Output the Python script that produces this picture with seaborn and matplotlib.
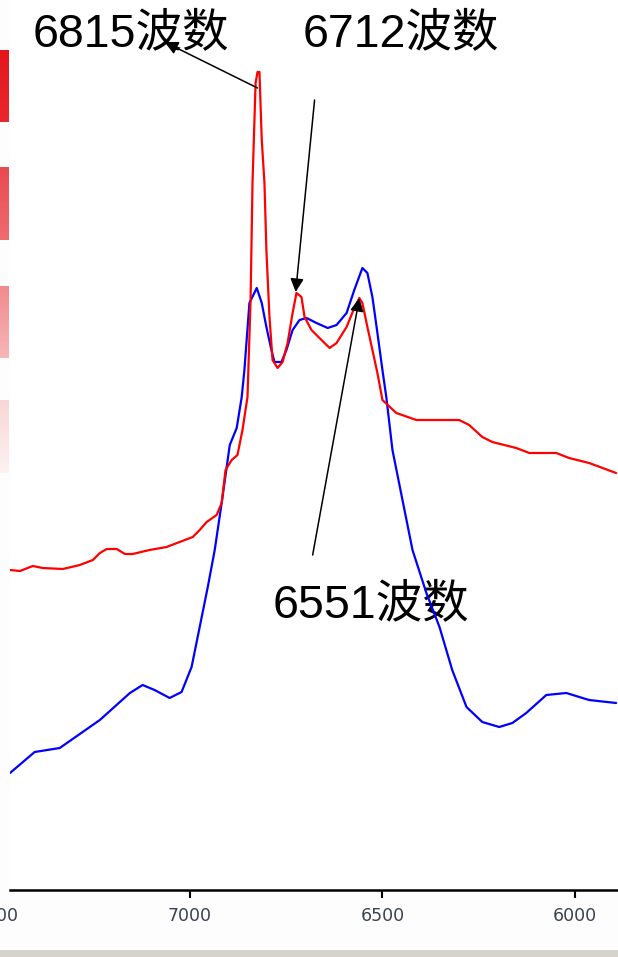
import numpy as np
import pandas as pd
import matplotlib
matplotlib.use("Agg")
import matplotlib.pyplot as plt
import seaborn as sns
from matplotlib.patches import Rectangle
from matplotlib.transforms import blended_transform_factory, offset_copy

# ---- data ----
blue_wn = [7466, 7402, 7337, 7233, 7155, 7122, 7091, 7052, 7021, 6995, 6974, 6953, 6935, 6917,
           6896, 6878, 6865, 6858, 6845, 6826, 6813, 6801, 6788, 6780, 6762, 6749, 6733, 6715,
           6697, 6671, 6642, 6619, 6593, 6573, 6552, 6539, 6526, 6513, 6500, 6490, 6474, 6448,
           6422, 6386, 6352, 6319, 6282, 6241, 6197, 6163, 6127, 6075, 6023, 5964, 5894]
blue_val = [1.17, 1.38, 1.42, 1.70, 1.97, 2.05, 2.00, 1.92, 1.98, 2.23, 2.63, 3.03, 3.40, 3.87,
            4.45, 4.62, 4.93, 5.20, 5.87, 6.02, 5.87, 5.63, 5.40, 5.28, 5.28, 5.40, 5.60, 5.70,
            5.72, 5.67, 5.62, 5.65, 5.77, 6.00, 6.22, 6.17, 5.93, 5.57, 5.20, 4.93, 4.40, 3.90,
            3.40, 2.97, 2.63, 2.20, 1.83, 1.68, 1.63, 1.67, 1.77, 1.95, 1.97, 1.90, 1.87]

red_wn = [7466, 7440, 7407, 7381, 7329, 7285, 7251, 7233, 7215, 7189, 7168, 7148, 7104, 7060,
          7026, 6992, 6974, 6956, 6930, 6917, 6907, 6891, 6876, 6863, 6850, 6842, 6837, 6829,
          6824, 6819, 6813, 6806, 6801, 6793, 6785, 6772, 6759, 6746, 6733, 6723, 6710, 6702,
          6684, 6658, 6637, 6619, 6593, 6573, 6560, 6552, 6539, 6526, 6513, 6500, 6464, 6412,
          6301, 6275, 6241, 6215, 6153, 6119, 6049, 6016, 5964, 5894]
red_val = [3.20, 3.19, 3.24, 3.22, 3.21, 3.25, 3.30, 3.37, 3.41, 3.41, 3.36, 3.36, 3.40, 3.43,
           3.48, 3.53, 3.60, 3.68, 3.75, 3.87, 4.20, 4.30, 4.35, 4.60, 4.93, 5.90, 7.07, 8.07,
           8.18, 8.18, 7.50, 7.07, 6.40, 5.73, 5.30, 5.22, 5.28, 5.47, 5.77, 5.97, 5.93, 5.73,
           5.60, 5.50, 5.42, 5.47, 5.63, 5.82, 5.92, 5.87, 5.63, 5.40, 5.17, 4.90, 4.77, 4.70,
           4.70, 4.65, 4.53, 4.48, 4.42, 4.37, 4.37, 4.32, 4.27, 4.17]

tick_values = [7000, 6500, 6000]
tick_labels = ["7000", "6500", "6000"]
edge_tick_value = 7500
edge_tick_label = "7500"

ann_labels = ["6815波数", "6712波数", "6551波数"]
ann_heads = [(7065, 8.48), (6725, 5.98), (6560, 5.92)]
ann_tails = [(6824, 8.02), (6676, 7.90), (6681, 3.35)]

# ---- figure ----
W, H = 618, 957
sns.set_style("white")
plt.rcParams["font.family"] = ["Liberation Sans", "Noto Sans CJK SC", "DejaVu Sans"]

fig = plt.figure(figsize=(W / 100, H / 100), dpi=100)
fig.patch.set_facecolor("#fdfdfd")
ax = fig.add_axes([10 / W, (H - 890) / H, 1 - 10 / W, 890 / H])
ax.set_facecolor("white")

df_b = pd.DataFrame({"wn": blue_wn, "val": blue_val})
df_r = pd.DataFrame({"wn": red_wn, "val": red_val})
sns.lineplot(data=df_b, x="wn", y="val", ax=ax, color="#0000ff", lw=1.6, estimator=None, zorder=3)
sns.lineplot(data=df_r, x="wn", y="val", ax=ax, color="#ff0000", lw=1.6, estimator=None, zorder=4)

ax.set_xlabel("")
ax.set_ylabel("")
ax.set_yticks([])
ax.set_xticks(tick_values)
tick_font = dict(family="DejaVu Sans", fontsize=12.5, color="#3a4250")
ax.set_xticklabels(tick_labels, **tick_font)
ax.set_xlim(7466, 5889)
ax.set_ylim(0, 8.9)
for s in ["top", "left", "right"]:
    ax.spines[s].set_visible(False)
ax.spines["bottom"].set_color("black")
ax.spines["bottom"].set_linewidth(1.8)
ax.tick_params(axis="x", direction="out", length=6, width=1.5, color="black", pad=6, bottom=True)

# partially visible tick label at the left edge (cut off in the original)
tr = offset_copy(blended_transform_factory(ax.transData, ax.transAxes), fig=fig,
                 x=0, y=-12, units="points")
ax.text(edge_tick_value, 0, edge_tick_label, transform=tr, ha="center", va="top",
        clip_on=False, **tick_font)

# arrows
for head, tail in zip(ann_heads, ann_tails):
    ax.annotate("", xy=head, xytext=tail, xycoords="data", textcoords="data",
                arrowprops=dict(arrowstyle="-|>", color="black", lw=1.1,
                                mutation_scale=20, shrinkA=0, shrinkB=0),
                zorder=5)

# annotation texts (pixel positions)
text_pos = [(131, 35), (401, 35), (371, 606)]
for lab, (px, py) in zip(ann_labels, text_pos):
    ax.text(px / W, 1 - py / H, lab, transform=fig.transFigure, ha="center", va="center",
            fontsize=33.5, color="black", zorder=1,
            family=["Liberation Sans", "Noto Sans CJK SC"])

# colour swatches at the left edge
sw = [(50, 122, "#e4161c", "#e8282d"), (167, 240, "#e84a50", "#ee6c70"),
      (286, 358, "#f28a8d", "#f6b6b8"), (400, 473, "#fad6d7", "#fdf2f2")]
for top, bot, c1, c2 in sw:
    sax = fig.add_axes([0, (H - bot) / H, 9 / W, (bot - top) / H])
    c1 = np.array(matplotlib.colors.to_rgb(c1))
    c2 = np.array(matplotlib.colors.to_rgb(c2))
    grad = np.linspace(0, 1, 50)[:, None, None] * (c2 - c1) + c1
    sax.imshow(np.repeat(grad, 2, axis=1), aspect="auto")
    sax.axis("off")

# bottom grey strip
fig.patches.append(Rectangle((0, 0), 1, 7 / H, transform=fig.transFigure,
                             facecolor="#d6d3cc", edgecolor="none"))

fig.savefig("out.png", dpi=100, facecolor=fig.get_facecolor())
